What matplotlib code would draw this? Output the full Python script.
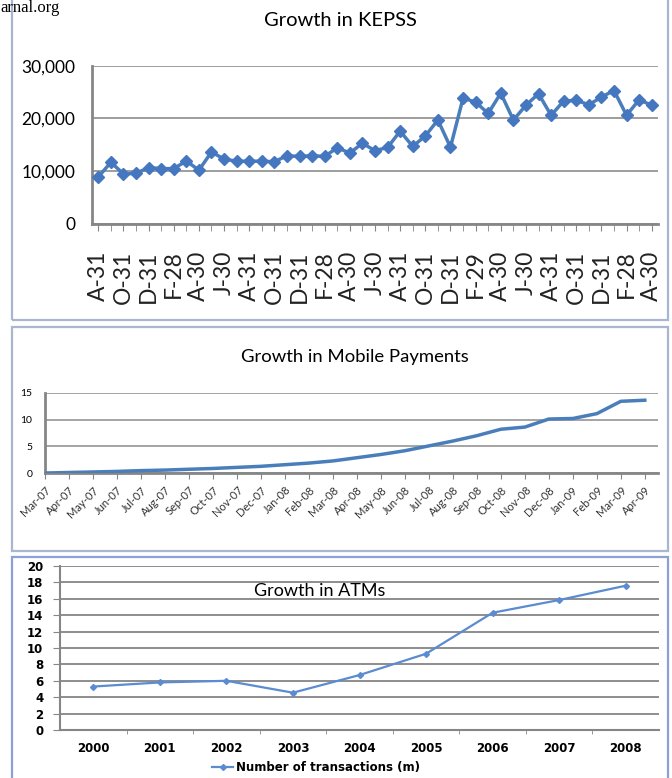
import matplotlib
matplotlib.use('Agg')
import matplotlib.pyplot as plt
from matplotlib.patches import Rectangle
from matplotlib.transforms import ScaledTranslation
from matplotlib.ticker import FuncFormatter, MultipleLocator, FixedLocator

# KEPSS monthly transactions, Aug 2005 .. Apr 2009
kepss_values = [8900, 11700, 9500, 9600, 10700, 10500, 10500, 11950, 10200, 13650,
                12300, 11900, 11900, 11900, 11800, 12950, 12800, 12950, 12800, 14450,
                13450, 15300, 13900, 14500, 17600, 14700, 16700, 19700, 14550, 23850,
                23100, 20950, 24800, 19700, 22500, 24700, 20600, 23300, 23450, 22600,
                24050, 25300, 20600, 23550, 22500]
kepss_labels = ['A-31', 'O-31', 'D-31', 'F-28', 'A-30', 'J-30', 'A-31', 'O-31',
                'D-31', 'F-28', 'A-30', 'J-30', 'A-31', 'O-31', 'D-31', 'F-29',
                'A-30', 'J-30', 'A-31', 'O-31', 'D-31', 'F-28', 'A-30']

# mobile payments
mobile_months = ['Mar-07', 'Apr-07', 'May-07', 'Jun-07', 'Jul-07', 'Aug-07', 'Sep-07',
                 'Oct-07', 'Nov-07', 'Dec-07', 'Jan-08', 'Feb-08', 'Mar-08', 'Apr-08',
                 'May-08', 'Jun-08', 'Jul-08', 'Aug-08', 'Sep-08', 'Oct-08', 'Nov-08',
                 'Dec-08', 'Jan-09', 'Feb-09', 'Mar-09', 'Apr-09']
mobile_values = [0.05, 0.15, 0.25, 0.35, 0.5, 0.6, 0.75, 0.9, 1.1, 1.3, 1.6, 1.9, 2.3,
                 2.9, 3.5, 4.2, 5.1, 6.0, 7.0, 8.2, 8.6, 10.1, 10.2, 11.1, 13.4, 13.6]

# ATMs
atm_years = ['2000', '2001', '2002', '2003', '2004', '2005', '2006', '2007', '2008']
atm_values = [5.3, 5.8, 6.0, 4.55, 6.7, 9.3, 14.3, 15.85, 17.6]

W, H = 672, 778
font = 'Lato'

def fx(x):
    return x / W

def fy(y):
    return 1 - y / H

def box(l, t, r, b):
    return [fx(l), fy(b), fx(r) - fx(l), fy(t) - fy(b)]

blue = '#4a7ebb'
axcol = '#868686'
gridcol = '#8c8c8c'

fig = plt.figure(figsize=(W / 100, H / 100), dpi=100)
fig.patch.set_facecolor('white')

# panel frames
for (l, t, r, b), c in [((12, -5, 668, 320), '#a8b6d0'),
                        ((12, 327, 668, 551), '#a8b6d0'),
                        ((12, 557, 668, 790), '#8f9fd8')]:
    fig.patches.append(Rectangle((fx(l), fy(b)), fx(r) - fx(l), fy(t) - fy(b),
                                 transform=fig.transFigure, fill=False,
                                 edgecolor=c, lw=1.6, zorder=0))

fig.text(fx(0), fy(0.5), 'arnal.org', family='Liberation Serif', fontsize=12,
         ha='left', va='top')

# ---- KEPSS
ax1 = fig.add_axes(box(92, 65.7, 658, 224))
x1 = list(range(len(kepss_values)))
ax1.plot(x1, kepss_values, color=blue, lw=2.5, marker='D', ms=6,
         mfc='#4577c0', mec='#4577c0', zorder=3)
ax1.set_xlim(-0.5, len(kepss_values) - 0.5)
ax1.set_ylim(0, 30000)
ax1.set_yticks([0, 10000, 20000, 30000])
ax1.yaxis.set_major_formatter(FuncFormatter(lambda v, p: f'{int(v):,}'))
ax1.set_xticks(x1[::2])
ax1.set_xticklabels(kepss_labels, rotation=90, family=font, fontsize=16.5,
                    color='#222222')
ax1.set_xticks(x1[1::2], minor=True)
ax1.tick_params(axis='x', which='both', length=5, color=axcol, pad=14)
ax1.tick_params(axis='y', length=0, pad=12)
for lab in ax1.get_yticklabels():
    lab.set_family(font)
    lab.set_fontsize(12.5)
ax1.grid(axis='y', color=gridcol, lw=1.2)
ax1.set_axisbelow(True)
for s in ['top', 'right']:
    ax1.spines[s].set_visible(False)
for s in ['left', 'bottom']:
    ax1.spines[s].set_color(axcol)
    ax1.spines[s].set_linewidth(2)
fig.text(fx(340), fy(21), 'Growth in KEPSS', family=font, fontsize=14.5,
         ha='center', va='center')

# ---- Mobile payments
ax2 = fig.add_axes(box(45, 392.7, 658, 473.3))
x2 = list(range(len(mobile_values)))
ax2.plot(x2, mobile_values, color=blue, lw=2.5, zorder=3)
ax2.set_xlim(0, 25.55)
ax2.set_ylim(0, 15)
ax2.set_yticks([0, 5, 10, 15])
ax2.set_xticks(x2)
ax2.set_xticklabels(mobile_months, rotation=45, ha='right', rotation_mode='anchor',
                    family=font, fontsize=8, color='#333333')
shift = ScaledTranslation(0.08, -0.06, fig.dpi_scale_trans)
for lab in ax2.get_xticklabels():
    lab.set_transform(lab.get_transform() + shift)
ax2.tick_params(axis='x', length=4, color=axcol, pad=4)
ax2.tick_params(axis='y', length=0, pad=9)
for lab in ax2.get_yticklabels():
    lab.set_family(font)
    lab.set_fontsize(7.5)
ax2.grid(axis='y', color=gridcol, lw=1.1)
ax2.set_axisbelow(True)
for s in ['top', 'right']:
    ax2.spines[s].set_visible(False)
for s in ['left', 'bottom']:
    ax2.spines[s].set_color(axcol)
    ax2.spines[s].set_linewidth(2)
fig.text(fx(355), fy(357), 'Growth in Mobile Payments', family=font, fontsize=13.3,
         ha='center', va='center')

# ---- ATMs
ax3 = fig.add_axes(box(60, 566, 659, 730))
x3 = list(range(len(atm_values)))
ax3.plot(x3, atm_values, color='#5b8bd0', lw=1.6, marker='D', ms=3,
         label='Number of transactions (m)', zorder=3)
ax3.set_xlim(-0.5, len(atm_values) - 0.5)
ax3.set_ylim(0, 20)
ax3.yaxis.set_major_locator(MultipleLocator(2))
ax3.set_xticks(x3)
ax3.set_xticklabels(atm_years, fontweight='bold', fontsize=8.5)
ax3.xaxis.set_minor_locator(FixedLocator([i + 0.5 for i in x3[:-1]]))
ax3.tick_params(axis='x', which='major', length=0, pad=9)
ax3.tick_params(axis='x', which='minor', length=3, color=axcol)
ax3.tick_params(axis='y', length=5, color=axcol, pad=7, labelsize=8.5)
for lab in ax3.get_yticklabels():
    lab.set_fontweight('bold')
ax3.grid(axis='y', color='#7a7a7a', lw=1.2)
ax3.set_axisbelow(True)
for s in ['top', 'right']:
    ax3.spines[s].set_visible(False)
for s in ['left', 'bottom']:
    ax3.spines[s].set_color(axcol)
    ax3.spines[s].set_linewidth(1.5)
fig.text(fx(320), fy(591), 'Growth in ATMs', family=font, fontsize=13,
         ha='center', va='center')
leg = ax3.legend(loc='center', bbox_to_anchor=(fx(316), fy(768)),
                 bbox_transform=fig.transFigure, frameon=False, handlelength=1.8,
                 handletextpad=0.2, prop={'weight': 'bold', 'size': 8.5})

fig.savefig('out.png', dpi=100)
